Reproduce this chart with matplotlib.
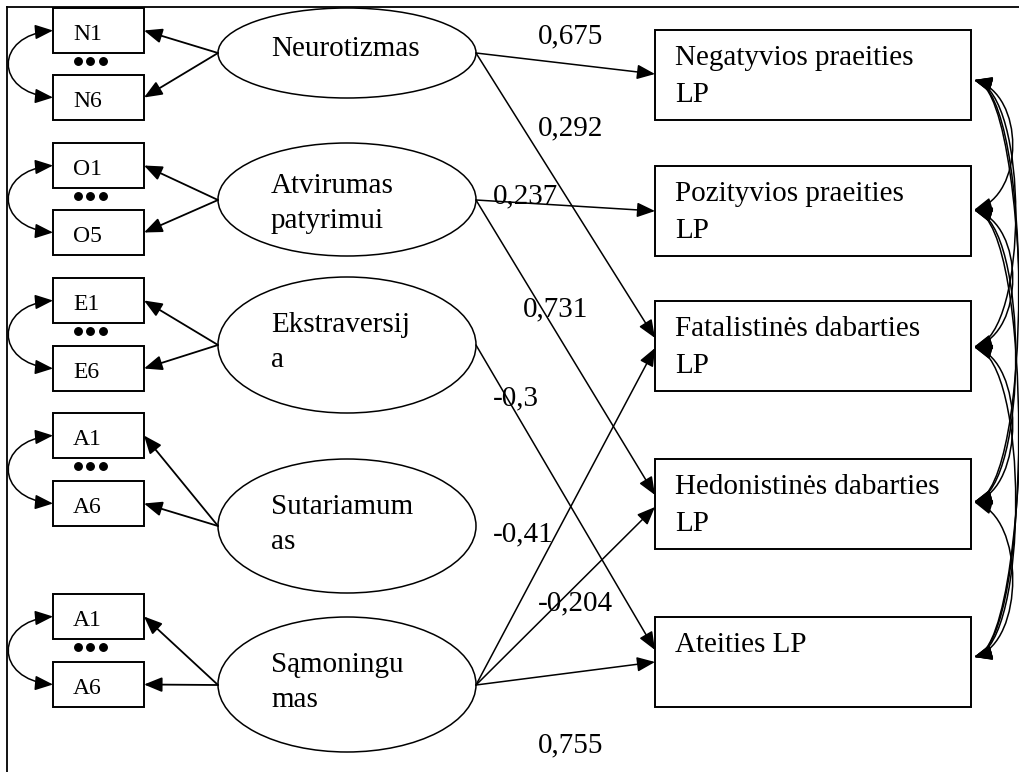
"""
plot.py - path diagram: personality traits -> time perspective (LP)
"""

import matplotlib
matplotlib.use("Agg")
import matplotlib.pyplot as plt
from matplotlib.patches import Rectangle, Ellipse, FancyArrowPatch
from matplotlib.path import Path

plt.rcParams["font.family"] = ["Liberation Serif", "DejaVu Serif"]

# ── Data ────────────────────────────────────────
latent_lines = [["Neurotizmas"], ["Atvirumas", "patyrimui"], ["Ekstraversij", "a"],
                ["Sutariamum", "as"], ["Sąmoningu", "mas"]]
indicator_pairs = [("N1", "N6"), ("O1", "O5"), ("E1", "E6"), ("A1", "A6"), ("A1", "A6")]
outcome_lines = [["Negatyvios praeities", "LP"], ["Pozityvios praeities", "LP"],
                 ["Fatalistinės dabarties", "LP"], ["Hedonistinės dabarties", "LP"],
                 ["Ateities LP"]]
path_from = [0, 0, 1, 1, 2, 4, 4, 4]
path_to = [0, 2, 1, 3, 4, 2, 3, 4]
path_coef = ["0,675", "0,292", "0,237", "0,731", "-0,3", "-0,41", "-0,204", "0,755"]

# ── Layout (pixel coordinates, y down) ──────────
W, H = 1019, 772
ELL_X0, ELL_X1 = 218, 476
ell_top = [8, 143, 277, 459, 617]
ell_bot = [98, 256, 413, 593, 752]
ell_right_y = [53, 200, 345, 526, 685]
ind_x0, ind_x1, ind_h = 53, 144, 45
ind_top = [(8, 75), (143, 210), (278, 346), (413, 481), (594, 662)]
out_x0, out_x1, out_h = 655, 971, 90
out_top = [30, 166, 301, 459, 617]
tip_y = [74, 338, 211, 495, 650, 348, 507, 662]
coef_pos = [(538, 43), (538, 135), (493, 203), (523, 316),
            (493, 405), (493, 541), (538, 610), (538, 752)]
corr_y = [80, 210, 347, 502, 657]

LW = 1.1
HEAD = "-|>,head_length=1.1,head_width=0.45"
HEAD2 = "<|-|>,head_length=1.1,head_width=0.45"

fig = plt.figure(figsize=(W / 100, H / 100), dpi=100)
ax = fig.add_axes([0, 0, 1, 1])
ax.set_xlim(0, W)
ax.set_ylim(H, 0)
ax.axis("off")


def arrow(p0, p1, style=HEAD, lw=LW):
    ax.add_patch(FancyArrowPatch(p0, p1, arrowstyle=style, mutation_scale=10,
                                 lw=lw, color="black", shrinkA=0, shrinkB=0))


def curve(p0, c0, c1, p1):
    pth = Path([p0, c0, c1, p1], [Path.MOVETO, Path.CURVE4, Path.CURVE4, Path.CURVE4])
    ax.add_patch(FancyArrowPatch(path=pth, arrowstyle=HEAD2, mutation_scale=10,
                                 lw=LW, color="black"))


# frame (table cell border: top and left only)
ax.plot([7, W], [7, 7], color="black", lw=1.3)
ax.plot([7, 7], [7, H], color="black", lw=1.3)

# latent ellipses with indicators
for i, lines in enumerate(latent_lines):
    cy = (ell_top[i] + ell_bot[i]) / 2
    ax.add_patch(Ellipse(((ELL_X0 + ELL_X1) / 2, cy), ELL_X1 - ELL_X0,
                         ell_bot[i] - ell_top[i], fill=False, lw=1.1, ec="black"))
    base = 56 if len(lines) == 1 else ell_top[i] + (50 if i == 1 else 55)
    for k, txt in enumerate(lines):
        ax.text(271, base + 35 * k, txt, fontsize=21, ha="left", va="baseline")

    mids = []
    for t, lab in zip(ind_top[i], indicator_pairs[i]):
        ax.add_patch(Rectangle((ind_x0, t), ind_x1 - ind_x0, ind_h, fill=False,
                               lw=1.4, ec="black"))
        ax.text(73, t + 32, lab, fontsize=17, ha="left", va="baseline")
        mids.append(t + ind_h / 2)
        arrow((ELL_X0, ell_right_y[i]), (ind_x1, t + ind_h / 2), lw=1.3)
    dot_y = ind_top[i][0] + ind_h + 8
    ax.plot([78, 90, 103], [dot_y] * 3, "o", color="black", ms=5.4)
    curve((ind_x0, mids[0]), (-6, mids[0] + 5), (-6, mids[1] - 5), (ind_x0, mids[1]))

# outcome boxes
for j, lines in enumerate(outcome_lines):
    t = out_top[j]
    ax.add_patch(Rectangle((out_x0, t), out_x1 - out_x0, out_h, fill=False,
                           lw=1.4, ec="black"))
    for k, txt in enumerate(lines):
        ax.text(675, t + 35 + 37 * k, txt, fontsize=21, ha="left", va="baseline")

# structural paths with coefficients
for n, (a, b) in enumerate(zip(path_from, path_to)):
    arrow((ELL_X1, ell_right_y[a]), (out_x0, tip_y[n]))
    x, y = coef_pos[n]
    ax.text(x, y, path_coef[n], fontsize=21, ha="left", va="baseline")

# correlations between outcomes
for a in range(len(corr_y)):
    for b in range(a + 1, len(corr_y)):
        ya, yb = corr_y[a], corr_y[b]
        k = 50 + 4 * (b - a)
        curve((out_x1 + 3, ya), (out_x1 + k, ya + 15), (out_x1 + k, yb - 15),
              (out_x1 + 3, yb))

fig.savefig("out.png", dpi=100)
